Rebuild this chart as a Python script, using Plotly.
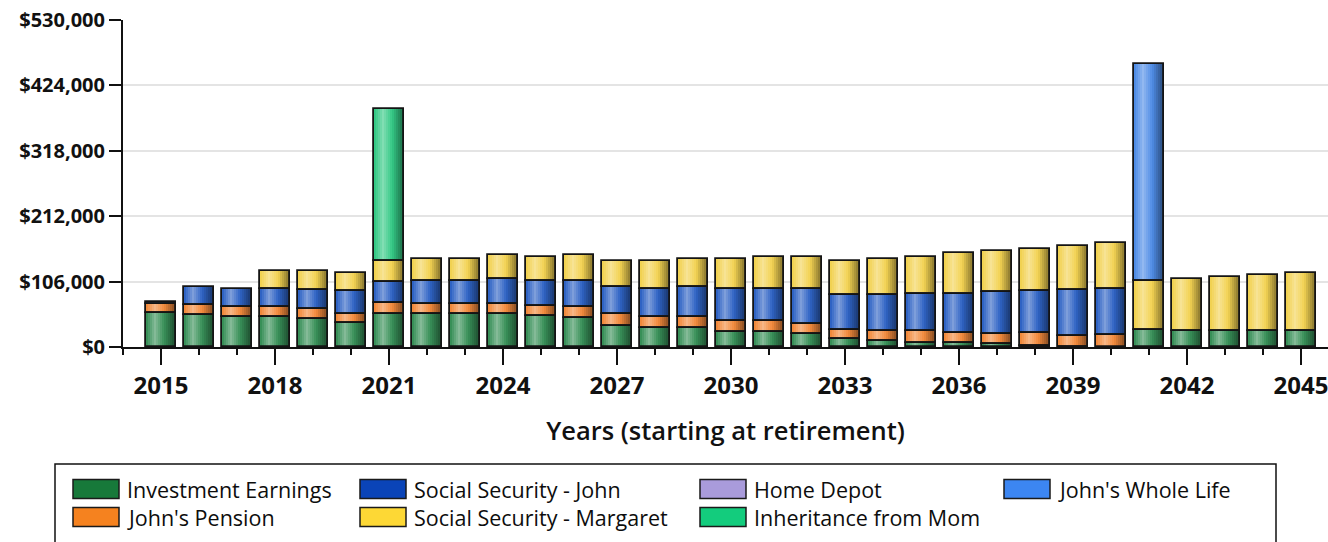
import plotly.graph_objects as go

# ---- data -------------------------------------------------------------
years = list(range(2015, 2046))

investment_earnings = [55100, 51400, 48600, 48600, 45400, 38900, 54100, 54100, 54100, 54100,
                       50900, 47700, 34700, 31400, 31400, 24300, 24300, 21700, 13000, 9700,
                       6500, 6500, 5000, 2300, 800, 0, 28200, 25400, 25400, 25400, 25400]
johns_pension = [15200, 16200, 16200, 16200, 16200, 15200, 17200, 16200, 16200, 16200,
                 16200, 17200, 19400, 17200, 17200, 17300, 17300, 16200, 15200, 15700,
                 19000, 16200, 16200, 20400, 17800, 20100, 0, 0, 0, 0, 0]
ss_john = [2500, 29700, 29200, 29800, 31400, 36100, 34700, 36100, 36100, 39900,
           39400, 41700, 43100, 44900, 48600, 51900, 51900, 55600, 55600, 58300,
           61100, 63900, 67600, 67600, 73400, 73400, 0, 0, 0, 0, 0]
ss_margaret = [0, 0, 0, 28500, 30200, 29700, 32900, 36800, 36800, 39500,
               39400, 43300, 42100, 45900, 46000, 49800, 52400, 52400, 55600, 59500,
               59300, 65800, 66500, 69200, 72400, 75000, 78300, 85400, 88000, 91900, 94500]
home_depot = [0] * 31
inheritance_mom = [0, 0, 0, 0, 0, 0, 247500] + [0] * 24
johns_whole_life = [0] * 26 + [351700, 0, 0, 0, 0]

series_names = ["Investment Earnings", "John's Pension", "Social Security - John",
                "Social Security - Margaret", "Home Depot", "Inheritance from Mom",
                "John's Whole Life"]
series_values = [investment_earnings, johns_pension, ss_john, ss_margaret,
                 home_depot, inheritance_mom, johns_whole_life]

# bar body colours (shaded like cylinders) and flat legend swatch colours
bar_colors = ["#389058", "#f28a3c", "#2f63c4", "#f2d252", "#a99bdb", "#34c985", "#4f8ce6"]
swatch_colors = ["#17793a", "#f5821f", "#0a44b8", "#fdd835", "#a99bdb", "#13cc7d", "#3c86f2"]

y_ticks = [0, 106000, 212000, 318000, 424000, 530000]
y_tick_text = ["${:,}".format(v) for v in y_ticks]

# ---- geometry ---------------------------------------------------------
W, H = 1328, 542
ML, MR, MT, MB = 123, 0, 20, 195
PW, PH = W - ML - MR, H - MT - MB
FONT = "Open Sans"
BAR_W = 0.79
N_SLICES = 15


def to_paper_x(px):
    return (px - ML) / PW


def to_paper_y(py):
    return (H - MB - py) / PH


def hex_rgb(h):
    h = h.lstrip("#")
    return [int(h[i:i + 2], 16) for i in (0, 2, 4)]


def shade(h, f):
    r = []
    for c in hex_rgb(h):
        if f >= 1:
            v = c + (255 - c) * (f - 1)
        else:
            v = c * f
        r.append(int(round(max(0, min(255, v)))))
    return "rgb(%d,%d,%d)" % tuple(r)


def profile(t):
    # horizontal light profile across a bar: highlight left of centre, dark right edge
    if t < 0.3:
        return 0.95 + (1.38 - 0.95) * (t / 0.3)
    return 1.38 + (0.5 - 1.38) * ((t - 0.3) / 0.7)


fig = go.Figure()

# cumulative bases for the stacked segments
bases = []
running = [0] * len(years)
for vals in series_values:
    bases.append(list(running))
    running = [a + b for a, b in zip(running, vals)]

outline_traces = []
for vals, base, col, name in zip(series_values, bases, bar_colors, series_names):
    yv = [v if v > 0 else None for v in vals]
    if all(v is None for v in yv):
        continue
    sw = BAR_W / N_SLICES
    for k in range(N_SLICES):
        t = (k + 0.5) / N_SLICES
        c = shade(col, profile(t))
        fig.add_trace(go.Bar(
            x=years, y=yv, base=base, width=sw * 1.15,
            offset=-BAR_W / 2 + k * sw,
            marker=dict(color=c, line=dict(width=0)),
            showlegend=False, hoverinfo="skip", name=name,
        ))
    outline_traces.append(go.Bar(
        x=years, y=yv, base=base, width=BAR_W, offset=-BAR_W / 2,
        marker=dict(color="rgba(0,0,0,0)", line=dict(color="#141414", width=1.8)),
        showlegend=False, name=name,
        hovertemplate=name + "<br>%{x}: $%{y:,.0f}<extra></extra>",
    ))

for tr in outline_traces:
    fig.add_trace(tr)

# ---- legend box drawn in pixel positions ------------------------------
shapes = []
annotations = []
shapes.append(dict(type="rect", xref="paper", yref="paper",
                   x0=to_paper_x(55), x1=to_paper_x(1276),
                   y0=to_paper_y(575), y1=to_paper_y(464),
                   line=dict(color="#111111", width=1.5), fillcolor="white", layer="below"))

col_x = [73, 360, 700, 1004]
row_y = [489, 517]
for i, (name, col) in enumerate(zip(series_names, swatch_colors)):
    cx = col_x[i // 2]
    cy = row_y[i % 2]
    shapes.append(dict(type="rect", xref="paper", yref="paper",
                       x0=to_paper_x(cx), x1=to_paper_x(cx + 46),
                       y0=to_paper_y(cy + 9.5), y1=to_paper_y(cy - 9.5),
                       line=dict(color="#1a1a1a", width=1.5), fillcolor=col))
    annotations.append(dict(xref="paper", yref="paper",
                            x=to_paper_x(cx + 52), y=to_paper_y(cy),
                            xanchor="left", yanchor="middle", showarrow=False,
                            text=name, font=dict(family=FONT, size=21.5, color="#0d0d0d")))

fig.update_layout(
    width=W, height=H,
    margin=dict(l=ML, r=MR, t=MT, b=MB, autoexpand=False),
    paper_bgcolor="white", plot_bgcolor="white",
    barmode="overlay", bargap=0,
    showlegend=False,
    shapes=shapes, annotations=annotations,
    font=dict(family=FONT, color="#111111"),
)

fig.update_xaxes(
    range=[2014, 2045.71], tickmode="linear", tick0=2015, dtick=3,
    ticks="outside", ticklen=16, tickwidth=1.5, tickcolor="#111111",
    ticklabeloverflow="allow",
    showline=True, linecolor="#111111", linewidth=2,
    showgrid=False, zeroline=False,
    tickfont=dict(family=FONT, size=24, color="#111111", weight="bold"),
    minor=dict(ticks="outside", tick0=2014, dtick=1, ticklen=6, tickwidth=1.5,
               tickcolor="#111111", showgrid=False),
    title=dict(text="Years (starting at retirement)", standoff=22,
               font=dict(family=FONT, size=25.5, color="#111111", weight=600)),
    automargin=False,
)

fig.update_yaxes(
    range=[0, 530000], tickmode="array", tickvals=y_ticks, ticktext=y_tick_text,
    ticks="outside", ticklen=12, tickwidth=1.5, tickcolor="#111111",
    showline=True, linecolor="#111111", linewidth=2,
    showgrid=True, gridcolor="#e4e4e4", gridwidth=2, zeroline=False,
    tickfont=dict(family=FONT, size=20, color="#111111", weight="bold"),
    automargin=False,
)

fig.write_html("out.html")
